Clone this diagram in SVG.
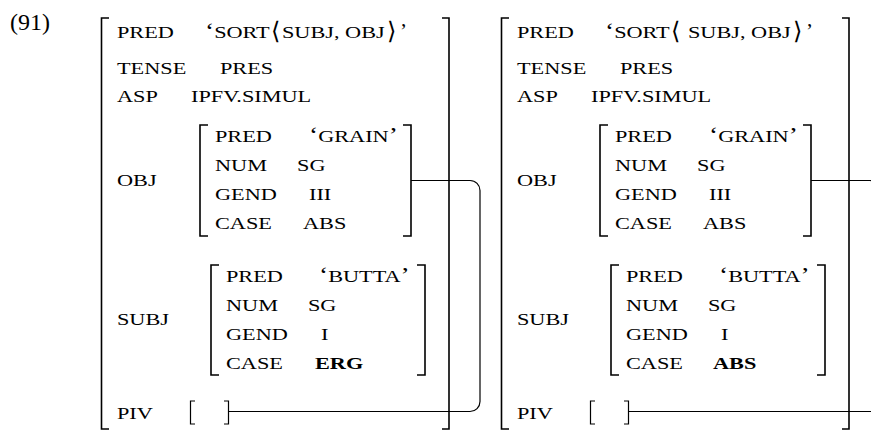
<svg xmlns="http://www.w3.org/2000/svg" width="871" height="431" viewBox="0 0 871 431">
  <style>
    text { font-family: "Liberation Serif", "Times New Roman", serif; fill: #000; }
    /* small-caps feature labels: widened capitals */
    .sc { font-size: 17px; transform-box: fill-box; transform-origin: 0 0; transform: scaleX(1.31); }
    .q { font-size: 21px; }
    .b { font-weight: bold; }
    .ang { font-family: "DejaVu Serif", "DejaVu Sans", serif; font-size: 24px; }
    .num { font-size: 24px; }
    .brk { fill: none; stroke: #000; stroke-width: 1.6; }
    .brk-s { fill: none; stroke: #000; stroke-width: 1.2; }
    .link { fill: none; stroke: #000; stroke-width: 1.2; }
  </style>

  <text class="num" x="10" y="30">(91)</text>

  <!-- first f-structure: ergative subject -->
  <g id="avm-left">
    <path class="brk" d="M109,18 H101.5 V429 H109"/>
    <path class="brk" d="M442,18 H449 V429 H442"/>

    <text class="sc" x="117" y="38">PRED</text>
    <text class="sc" x="205" y="38"><tspan class="q">‘</tspan>SORT</text>
    <text class="ang" x="271" y="39">⟨</text>
    <text class="sc" x="282" y="38">SUBJ, OBJ</text>
    <text class="ang" x="387" y="39">⟩</text>
    <text class="q" x="400" y="38">’</text>

    <text class="sc" x="117" y="74">TENSE</text>
    <text class="sc" x="220" y="74">PRES</text>
    <text class="sc" x="117" y="102">ASP</text>
    <text class="sc" x="191" y="102">IPFV.SIMUL</text>

    <text class="sc" x="117" y="186">OBJ</text>
    <g id="obj-left">
      <path class="brk" d="M208,125 H200 V236 H208"/>
      <path class="brk" d="M403,125 H411 V236 H403"/>
      <text class="sc" x="215" y="142">PRED</text>
      <text class="sc" x="309" y="142"><tspan class="q">‘</tspan>GRAIN<tspan class="q">’</tspan></text>
      <text class="sc" x="215" y="171">NUM</text>
      <text class="sc" x="297" y="171">SG</text>
      <text class="sc" x="215" y="200">GEND</text>
      <text class="sc" x="309" y="200">III</text>
      <text class="sc" x="215" y="229">CASE</text>
      <text class="sc" x="303" y="229">ABS</text>
    </g>

    <text class="sc" x="117" y="325">SUBJ</text>
    <g id="subj-left">
      <path class="brk" d="M219,265 H211 V375 H219"/>
      <path class="brk" d="M417,265 H425 V375 H417"/>
      <text class="sc" x="226" y="282">PRED</text>
      <text class="sc" x="319" y="282"><tspan class="q">‘</tspan>BUTTA<tspan class="q">’</tspan></text>
      <text class="sc" x="226" y="311">NUM</text>
      <text class="sc" x="308" y="311">SG</text>
      <text class="sc" x="226" y="340">GEND</text>
      <text class="sc" x="321" y="340">I</text>
      <text class="sc" x="226" y="369">CASE</text>
      <text class="sc b" x="315" y="369">ERG</text>
    </g>

    <text class="sc" x="117" y="419">PIV</text>
    <g id="piv-left">
      <path class="brk-s" d="M195,401 H190.5 V424 H195"/>
      <path class="brk-s" d="M224,401 H228.5 V424 H224"/>
    </g>
  </g>

  <!-- second f-structure: absolutive subject, same layout shifted right -->
  <g id="avm-right" transform="translate(400,0)">
    <path class="brk" d="M109,18 H101.5 V429 H109"/>
    <path class="brk" d="M442,18 H449 V429 H442"/>

    <text class="sc" x="117" y="38">PRED</text>
    <text class="sc" x="205" y="38"><tspan class="q">‘</tspan>SORT</text>
    <text class="ang" x="271" y="39">⟨</text>
    <text class="sc" x="288" y="38">SUBJ, OBJ</text>
    <text class="ang" x="393" y="39">⟩</text>
    <text class="q" x="406" y="38">’</text>

    <text class="sc" x="117" y="74">TENSE</text>
    <text class="sc" x="220" y="74">PRES</text>
    <text class="sc" x="117" y="102">ASP</text>
    <text class="sc" x="191" y="102">IPFV.SIMUL</text>

    <text class="sc" x="117" y="186">OBJ</text>
    <g id="obj-right">
      <path class="brk" d="M208,125 H200 V236 H208"/>
      <path class="brk" d="M403,125 H411 V236 H403"/>
      <text class="sc" x="215" y="142">PRED</text>
      <text class="sc" x="309" y="142"><tspan class="q">‘</tspan>GRAIN<tspan class="q">’</tspan></text>
      <text class="sc" x="215" y="171">NUM</text>
      <text class="sc" x="297" y="171">SG</text>
      <text class="sc" x="215" y="200">GEND</text>
      <text class="sc" x="309" y="200">III</text>
      <text class="sc" x="215" y="229">CASE</text>
      <text class="sc" x="303" y="229">ABS</text>
    </g>

    <text class="sc" x="117" y="325">SUBJ</text>
    <g id="subj-right">
      <path class="brk" d="M219,265 H211 V375 H219"/>
      <path class="brk" d="M417,265 H425 V375 H417"/>
      <text class="sc" x="226" y="282">PRED</text>
      <text class="sc" x="319" y="282"><tspan class="q">‘</tspan>BUTTA<tspan class="q">’</tspan></text>
      <text class="sc" x="226" y="311">NUM</text>
      <text class="sc" x="308" y="311">SG</text>
      <text class="sc" x="226" y="340">GEND</text>
      <text class="sc" x="321" y="340">I</text>
      <text class="sc" x="226" y="369">CASE</text>
      <text class="sc b" x="313" y="369">ABS</text>
    </g>

    <text class="sc" x="117" y="419">PIV</text>
    <g id="piv-right">
      <path class="brk-s" d="M195,401 H190.5 V424 H195"/>
      <path class="brk-s" d="M224,401 H228.5 V424 H224"/>
    </g>
  </g>

  <!-- structure-sharing lines: OBJ value to PIV -->
  <g id="connectors">
    <path class="link" d="M411,180.5 H470 A10,10 0 0 1 480,190.5 V401.5 A10,10 0 0 1 470,411.5 H228.5"/>
    <path class="link" d="M811,180.5 H870 A10,10 0 0 1 880,190.5 V401.5 A10,10 0 0 1 870,411.5 H628.5"/>
  </g>
</svg>
